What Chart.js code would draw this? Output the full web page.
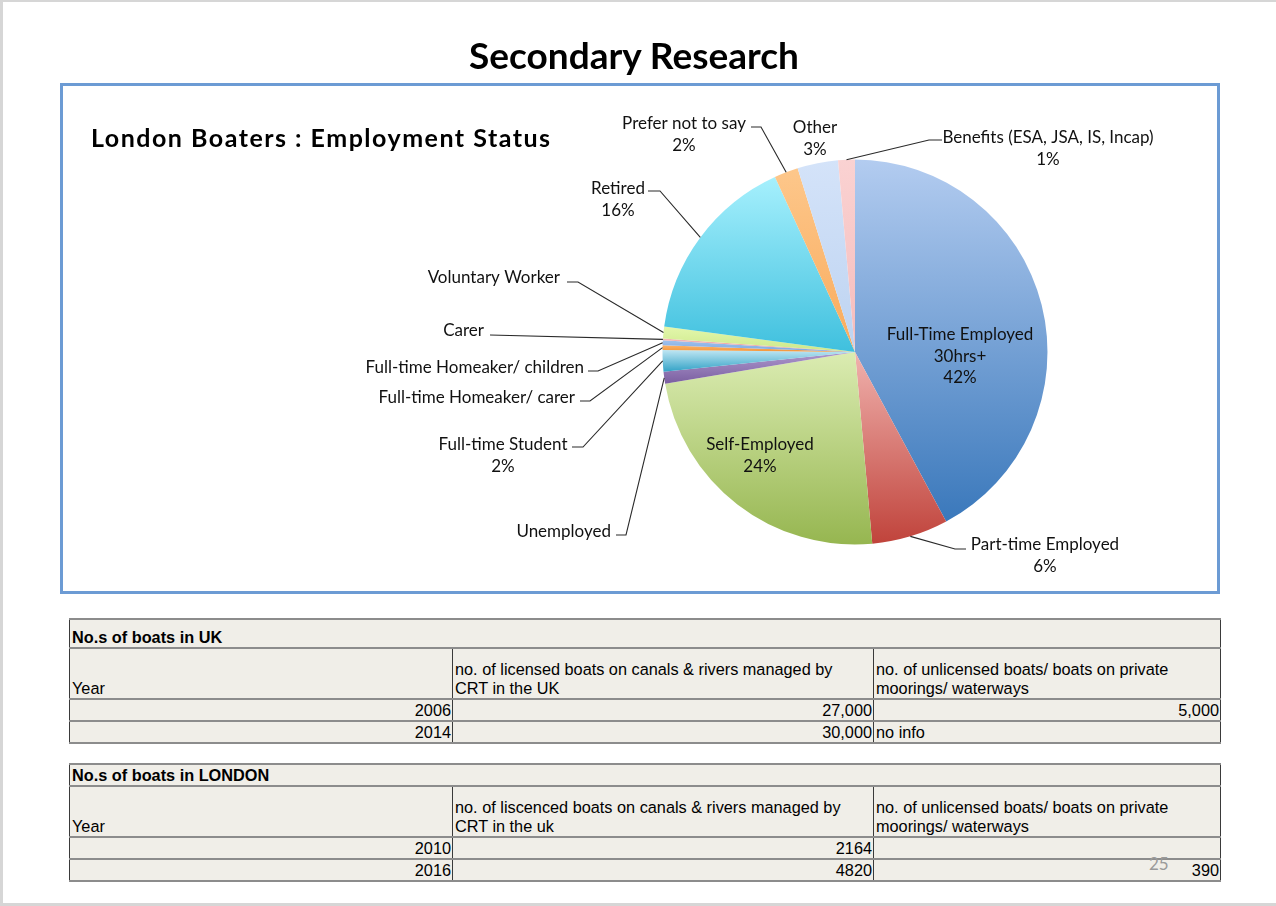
<!DOCTYPE html>
<html>
<head>
<meta charset="utf-8">
<title>Secondary Research</title>
<script src="https://cdn.jsdelivr.net/npm/chart.js@4.4.1/dist/chart.umd.min.js"></script>
<style>
  body { margin: 0; width: 1276px; height: 906px; background: #d6d6d6; position: relative; overflow: hidden; }
  .abs { position: absolute; }
  #slide { left: 3px; top: 2px; width: 1273px; height: 901px; background: #fff; }
  #title { left: 0; width: 1268px; top: 32px; text-align: center; font: bold 37px Lato, "Open Sans", sans-serif; color: #000; }
  #box { left: 60px; top: 83px; width: 1160px; height: 511px; box-sizing: border-box; border: 3px solid #6c9bd4; }
  #subtitle { left: 91px; top: 122px; font: bold 25px Lato, "Open Sans", sans-serif; letter-spacing: 1.5px; color: #000; }
  #pie { left: 0; top: 0; }
  table { position: absolute; border-collapse: collapse; table-layout: fixed; background: #f0eee8;
          font: 16.3px "Liberation Sans", Arial, sans-serif; color: #000; }
  td { padding: 0 1px 0 2px; vertical-align: bottom; border-left: 1px solid #3a3a3a; border-right: 1px solid #3a3a3a;
       border-top: 2px solid #8c8c8c; border-bottom: 2px solid #8c8c8c; line-height: 19px; overflow: hidden; white-space: nowrap; }
  td.title { font-weight: bold; }
  td.head { white-space: normal; padding-right: 20px; }
  td.num { text-align: right; }
  #pageno { left: 1149px; top: 853px; font: 17px Lato, sans-serif; color: #9a9a9a; }
</style>
</head>
<body>
<div id="slide" class="abs"></div>
<div id="box" class="abs"></div>
<canvas id="pie" class="abs" width="1276" height="906"></canvas>
<div id="title" class="abs">Secondary Research</div>
<div id="subtitle" class="abs">London Boaters : Employment Status</div>
<div id="tables"></div>
<div id="pageno" class="abs">25</div>

<script>
// pie data, clockwise from 12 o'clock
var categories = ['Full-Time Employed\n30hrs+', 'Part-time Employed', 'Self-Employed', 'Unemployed',
    'Full-time Student', 'Full-time Homeaker/ carer', 'Full-time Homeaker/ children', 'Carer',
    'Voluntary Worker', 'Retired', 'Prefer not to say', 'Other', 'Benefits (ESA, JSA, IS, Incap)'];
var shares = [42, 6.4, 23.7, 1, 1.8, 0.4, 0.4, 0.15, 1, 16, 2, 3.4, 1.4];
var pctLabels = ['42%', '6%', '24%', '', '2%', '', '', '', '', '16%', '2%', '3%', '1%'];

// tables
var ukYears = ['2006', '2014'];
var ukLicensed = ['27,000', '30,000'];
var ukUnlicensed = ['5,000', 'no info'];
var londonYears = ['2010', '2016'];
var londonLicensed = ['2164', '4820'];
var londonUnlicensed = ['', '390'];

var lightColors = ['#b3ccf0', '#f0b2ae', '#dbecb2', '#ad98cd', '#bfe6f3', '#fbb26a', '#a0c2ee',
    '#f4b8b8', '#e3f7ac', '#a6f0fd', '#fdc78b', '#d4e3f9', '#fad2d2'];
var darkColors = ['#3a78bb', '#c0433b', '#96b650', '#7a5ea0', '#32a2c6', '#f39538', '#7aa6e0',
    '#e49a9a', '#cce88a', '#3fc0de', '#f9ab5c', '#bdd3f1', '#f5bcbc'];

// where each label sits (page pixels) and the bend of its leader line
var labelLayout = [
    { x: 960, y: 335, align: 'center' },
    { x: 1045, y: 545, align: 'center', bend: [[955, 549], [966, 549]] },
    { x: 760, y: 445, align: 'center' },
    { x: 611, y: 532, align: 'right', bend: [[626, 535], [616, 535]] },
    { x: 503, y: 445, align: 'center', bend: [[583, 447], [572, 447]] },
    { x: 575, y: 398, align: 'right', bend: [[590, 401], [580, 401]] },
    { x: 584, y: 368, align: 'right', bend: [[598, 371], [588, 371]] },
    { x: 484, y: 331, align: 'right', bend: [[490, 335]] },
    { x: 560, y: 278, align: 'right', bend: [[578, 282], [567, 282]] },
    { x: 618, y: 189, align: 'center', bend: [[660, 191], [648, 191]] },
    { x: 684, y: 124, align: 'center', bend: [[761, 127], [751, 127]] },
    { x: 815, y: 128, align: 'center' },
    { x: 1048, y: 138, align: 'center', bend: [[929, 140], [942, 140]] }
];

function sliceGradient(ctx) {
    var chart = ctx.chart;
    var area = chart.chartArea;
    var i = ctx.dataIndex;
    if (!area) return lightColors[i];
    var total = shares.reduce(function (a, b) { return a + b; }, 0);
    var before = 0;
    for (var k = 0; k < i; k++) before += shares[k];
    var a0 = -Math.PI / 2 + 2 * Math.PI * before / total;
    var a1 = a0 + 2 * Math.PI * shares[i] / total;
    var cy = (area.top + area.bottom) / 2;
    var r = Math.min(area.width, area.height) / 2;
    var minY = cy, maxY = cy;
    for (var s = 0; s <= 24; s++) {
        var y = cy + r * Math.sin(a0 + (a1 - a0) * s / 24);
        minY = Math.min(minY, y);
        maxY = Math.max(maxY, y);
    }
    if (maxY - minY < 2) maxY = minY + 2;
    var g = chart.ctx.createLinearGradient(0, minY, 0, maxY);
    g.addColorStop(0, lightColors[i]);
    g.addColorStop(1, darkColors[i]);
    return g;
}

var pieLabels = {
    id: 'pieLabels',
    afterDatasetsDraw: function (chart) {
        var c = chart.ctx;
        var arcs = chart.getDatasetMeta(0).data;
        c.save();
        c.font = '17px Lato, "Open Sans", sans-serif';
        c.fillStyle = '#111';
        c.strokeStyle = '#2a2a2a';
        c.lineWidth = 1.1;
        labelLayout.forEach(function (lay, i) {
            var arc = arcs[i];
            if (lay.bend) {
                var p = arc.getProps(['x', 'y', 'startAngle', 'endAngle', 'outerRadius'], true);
                var mid = (p.startAngle + p.endAngle) / 2;
                c.beginPath();
                c.moveTo(p.x + Math.cos(mid) * p.outerRadius, p.y + Math.sin(mid) * p.outerRadius);
                lay.bend.forEach(function (pt) { c.lineTo(pt[0], pt[1]); });
                c.stroke();
            }
            var lines = categories[i].split('\n');
            if (pctLabels[i]) lines.push(pctLabels[i]);
            c.textAlign = lay.align;
            c.textBaseline = 'middle';
            lines.forEach(function (t, j) { c.fillText(t, lay.x, lay.y + j * 21.5); });
        });
        c.restore();
    }
};

new Chart(document.getElementById('pie'), {
    type: 'pie',
    data: {
        labels: categories,
        datasets: [{
            data: shares,
            backgroundColor: sliceGradient,
            borderWidth: 0
        }]
    },
    options: {
        responsive: false,
        animation: false,
        events: [],
        layout: { padding: { left: 662.5, right: 228.5, top: 159.5, bottom: 361.5 } },
        plugins: { legend: { display: false }, tooltip: { enabled: false } }
    },
    plugins: [pieLabels]
});

// tables
function buildTable(top, titleH, title, headers, years, col2, col3) {
    var t = document.createElement('table');
    t.style.left = '69px';
    t.style.top = top + 'px';
    t.style.width = '1151px';
    var html = '<colgroup><col style="width:383px"><col style="width:421px"><col style="width:347px"></colgroup>';
    html += '<tr style="height:' + titleH + 'px"><td class="title" colspan="3">' + title + '</td></tr>';
    html += '<tr style="height:51px">' + headers.map(function (h) { return '<td class="head">' + h + '</td>'; }).join('') + '</tr>';
    years.forEach(function (y, i) {
        var cells = [y, col2[i], col3[i]];
        html += '<tr style="height:22px">' + cells.map(function (v) {
            var isNum = v !== '' && !isNaN(parseFloat(v.replace(/,/g, '')));
            return '<td' + (isNum ? ' class="num"' : '') + '>' + v + '</td>';
        }).join('') + '</tr>';
    });
    t.innerHTML = html;
    document.getElementById('tables').appendChild(t);
}

buildTable(618, 29, 'No.s of boats in UK',
    ['Year', 'no. of licensed boats on canals &amp; rivers managed by CRT in the UK',
        'no. of unlicensed boats/ boats on private moorings/ waterways'],
    ukYears, ukLicensed, ukUnlicensed);
buildTable(763, 22, 'No.s of boats in LONDON',
    ['Year', 'no. of liscenced boats on canals &amp; rivers managed by CRT in the uk',
        'no. of unlicensed boats/ boats on private moorings/ waterways'],
    londonYears, londonLicensed, londonUnlicensed);
</script>
</body>
</html>
